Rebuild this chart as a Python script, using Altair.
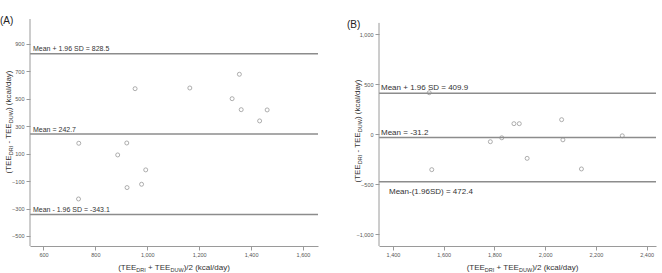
import altair as alt
import pandas as pd

# ---------------- data ----------------
a_mean = [953, 1164, 1355, 1327, 1362, 1462, 1433, 736, 921, 886, 994, 978, 922, 735]
a_diff = [574, 579, 679, 501, 421, 419, 339, 176, 178, 91, -18, -123, -147, -230]
b_mean = [1543, 1553, 1784, 1829, 1877, 1898, 1929, 2065, 2070, 2143, 2304]
b_diff = [415, -353, -74, -35, 106, 106, -240, 146, -55, -346, -15]

a_lines = [828.5, 242.7, -343.1]
a_line_labels = ["Mean + 1.96 SD = 828.5", "Mean = 242.7", "Mean - 1.96 SD = -343.1"]
b_lines = [409.9, -31.2, -472.4]
b_line_labels = ["Mean + 1.96 SD = 409.9", "Mean = -31.2", "Mean-(1.96SD) = 472.4"]

a_xticks = [600, 800, 1000, 1200, 1400, 1600]
a_yticks = [-500, -300, -100, 100, 300, 500, 700, 900]
b_xticks = [1400, 1600, 1800, 2000, 2200, 2400]
b_yticks = [-1000, -500, 0, 500, 1000]

x_title = [("(TEE", False), ("DRI", True), (" + TEE", False), ("DUW", True), (")/2 (kcal/day)", False)]
y_title = [("(TEE", False), ("DRI", True), (" - TEE", False), ("DUW", True), (") (kcal/day)", False)]

FONT = "Liberation Sans"
LINE_C = "#8c8c8c"
AXIS_C = "#9a9a9a"
TXT_C = "#333333"

# Arial / Liberation Sans advance widths (em)
W = {'(': .333, ')': .333, 'T': .611, 'E': .667, 'D': .722, 'R': .722, 'I': .278,
     'U': .722, 'W': .944, ' ': .278, '+': .584, '-': .333, '/': .278, '2': .556,
     'k': .5, 'c': .5, 'a': .556, 'l': .222, 'd': .556, 'y': .5}
MAIN, SUB = 8, 5.5

one = alt.Data(values=[{}])


def tw(s, size):
    return sum(W.get(c, .556) for c in s) * size


def composite(pieces, cx, cy, rotate=False):
    total = sum(tw(t, SUB if s else MAIN) for t, s in pieces)
    pos = -total / 2
    out = []
    for t, s in pieces:
        size = SUB if s else MAIN
        off = 2 if s else 0
        lead = len(t) - len(t.lstrip(" "))
        start = pos + tw(" " * lead, size)
        txt = t.strip(" ")
        if rotate:
            m = alt.Chart(one).mark_text(text=txt, align="left", baseline="alphabetic", angle=270,
                                         fontSize=size, font=FONT, color=TXT_C).encode(
                x=alt.value(cx + off), y=alt.value(cy - start))
        else:
            m = alt.Chart(one).mark_text(text=txt, align="left", baseline="alphabetic",
                                         fontSize=size, font=FONT, color=TXT_C).encode(
                x=alt.value(cx + start), y=alt.value(cy + off))
        out.append(m)
        pos += tw(t, size)
    return out


def panel(xs, ys, lines, labels, label_pos, xdom, ydom, xticks, yticks, w, h,
          tag, tag_xy, lab_size, ytitle_xy, xtitle_dx, yline_top):
    xscale = alt.Scale(domain=xdom, nice=False, zero=False)
    yscale = alt.Scale(domain=ydom, nice=False, zero=False)
    xaxis = alt.Axis(values=xticks, format=",d", title=None, labelOverlap=False)
    yaxis = alt.Axis(values=yticks, format=",d", title=None, domain=False, labelOverlap=False)
    pts = pd.DataFrame({"m": xs, "d": ys})
    points = alt.Chart(pts).mark_point(shape="circle", filled=False, size=16,
                                       color="#707070", strokeWidth=0.8).encode(
        x=alt.X("m:Q", scale=xscale, axis=xaxis),
        y=alt.Y("d:Q", scale=yscale, axis=yaxis))
    ldf = pd.DataFrame({"v": lines})
    rules = alt.Chart(ldf).mark_rule(color=LINE_C, strokeWidth=1.5).encode(
        y=alt.Y("v:Q", scale=yscale, axis=yaxis))
    yline = alt.Chart(one).mark_rule(color=AXIS_C, strokeWidth=1).encode(
        x=alt.value(0), y=alt.datum(yline_top, scale=yscale, axis=yaxis), y2=alt.value(h))
    texts = []
    for v, lab, (dx, dy) in zip(lines, labels, label_pos):
        texts.append(alt.Chart(one).mark_text(text=lab, align="left", baseline="alphabetic",
                                              fontSize=lab_size, font=FONT, color=TXT_C,
                                              dy=dy).encode(
            x=alt.value(dx), y=alt.datum(v, scale=yscale, axis=yaxis)))
    tagm = alt.Chart(one).mark_text(text=tag, align="left", baseline="middle", fontSize=10,
                                    font=FONT, color="#222").encode(
        x=alt.value(tag_xy[0]), y=alt.value(tag_xy[1]))
    parts = [points, rules, yline] + texts + [tagm]
    parts += composite(x_title, w / 2 + xtitle_dx, h + 24)
    parts += composite(y_title, ytitle_xy[0], ytitle_xy[1], rotate=True)
    return alt.layer(*parts).properties(width=w, height=h)


pa = panel(a_mean, a_diff, a_lines, a_line_labels, [(3, -2.5), (3, -2.5), (3, -2.5)],
           [548, 1658], [-573, 1082], a_xticks, a_yticks, 288, 227,
           "(A)", (-30, 2), 7, (-19, 103), 0, 1082)
pb = panel(b_mean, b_diff, b_lines, b_line_labels, [(2, -3), (2, -2.5), (10, 12.5)],
           [1345, 2437], [-1115, 1151], b_xticks, b_yticks, 277, 227,
           "(B)", (-32, 6), 8, (-19, 112), 5, 1112)

chart = alt.hconcat(pa, pb, spacing=28).properties(
    padding={"left": 0, "top": 16, "right": 2, "bottom": 0},
    background="white",
).configure_view(stroke=None).configure_axis(
    grid=False, domainColor=AXIS_C, tickColor=AXIS_C, tickSize=4, labelFontSize=5.5,
    labelColor="#555555", labelFont=FONT, labelPadding=2, domainWidth=1, tickWidth=1,
    labelOverlap=False,
)

chart.save("out.html", embed_options={"renderer": "svg", "actions": False})
